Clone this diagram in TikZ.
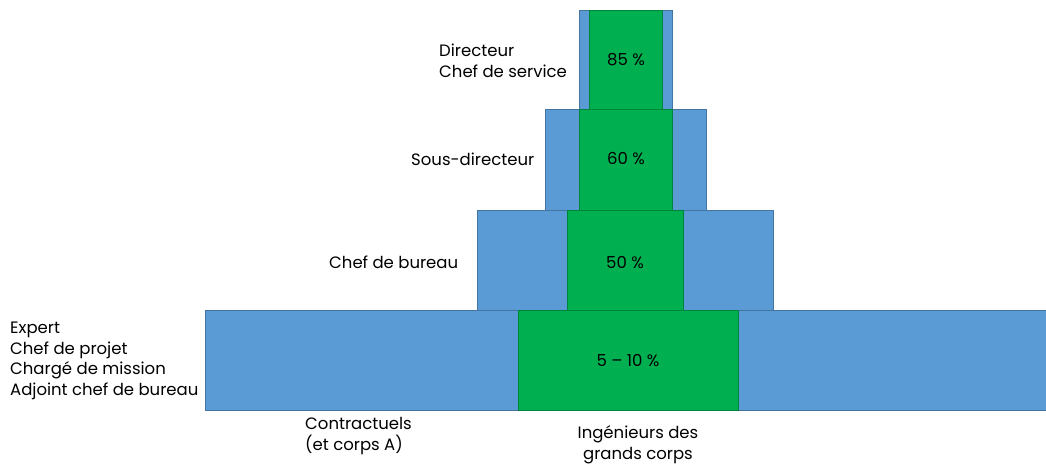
\documentclass[tikz,border=0pt]{standalone}
\usepackage{fontspec}
\setmainfont{Poppins}
\usetikzlibrary{positioning}
\definecolor{barblue}{HTML}{5B9BD5}
\definecolor{bargreen}{HTML}{00B050}
\tikzset{
  bluebar/.style={draw=barblue!75!black, fill=barblue, line width=0.6pt},
  greenbar/.style={draw=bargreen!75!black, fill=bargreen, line width=0.6pt},
  lbl/.style={font=\fontsize{16.5}{20.5}\selectfont, inner sep=0pt, align=left},
  pct/.style={font=\fontsize{16.5}{20.5}\selectfont, inner sep=0pt},
}
\begin{document}
\begin{tikzpicture}[x=1pt,y=-1pt]
      \useasboundingbox (0,0) rectangle (1046,465);
      % les barres
      \draw[bluebar]  (579,10)  rectangle (672,109);
      \draw[greenbar] (589,10)  rectangle (662,109);
      \draw[bluebar]  (545,109) rectangle (706,210);
      \draw[greenbar] (579,109) rectangle (672,210);
      \draw[bluebar]  (477,210) rectangle (773,310);
      \draw[greenbar] (567,210) rectangle (683,310);
      \draw[bluebar]  (205,310) rectangle (1047,410);
      \draw[greenbar] (518,310) rectangle (738,410);
      % pourcentages
      \node[pct] at (626, 60)  (p85) {85~\%};
      \node[pct] at (626, 159) (p60) {60~\%};
      \node[pct] at (625, 263) (p50) {50~\%};
      \node[pct] at (628, 361) (p510) {5 – 10~\%};
      % postes
      \node[lbl, anchor=west] at (439, 61)  (dir)  {Directeur\\Chef de service};
      \node[lbl, anchor=west] at (411, 159) (sdir) {Sous-directeur};
      \node[lbl, anchor=west] at (329, 262) (bur)  {Chef de bureau};
      \node[lbl, anchor=west] at (10, 361)  (exp)  {Expert\\Chef de projet\\Chargé de mission\\Adjoint chef de bureau};
      % populations
      \node[lbl, anchor=west] at (305, 436) (contr) {Contractuels\\(et corps A)};
      \node[lbl, align=center] at (638, 445) (ing) {Ingénieurs des\\grands corps};
    \end{tikzpicture}
\end{document}
